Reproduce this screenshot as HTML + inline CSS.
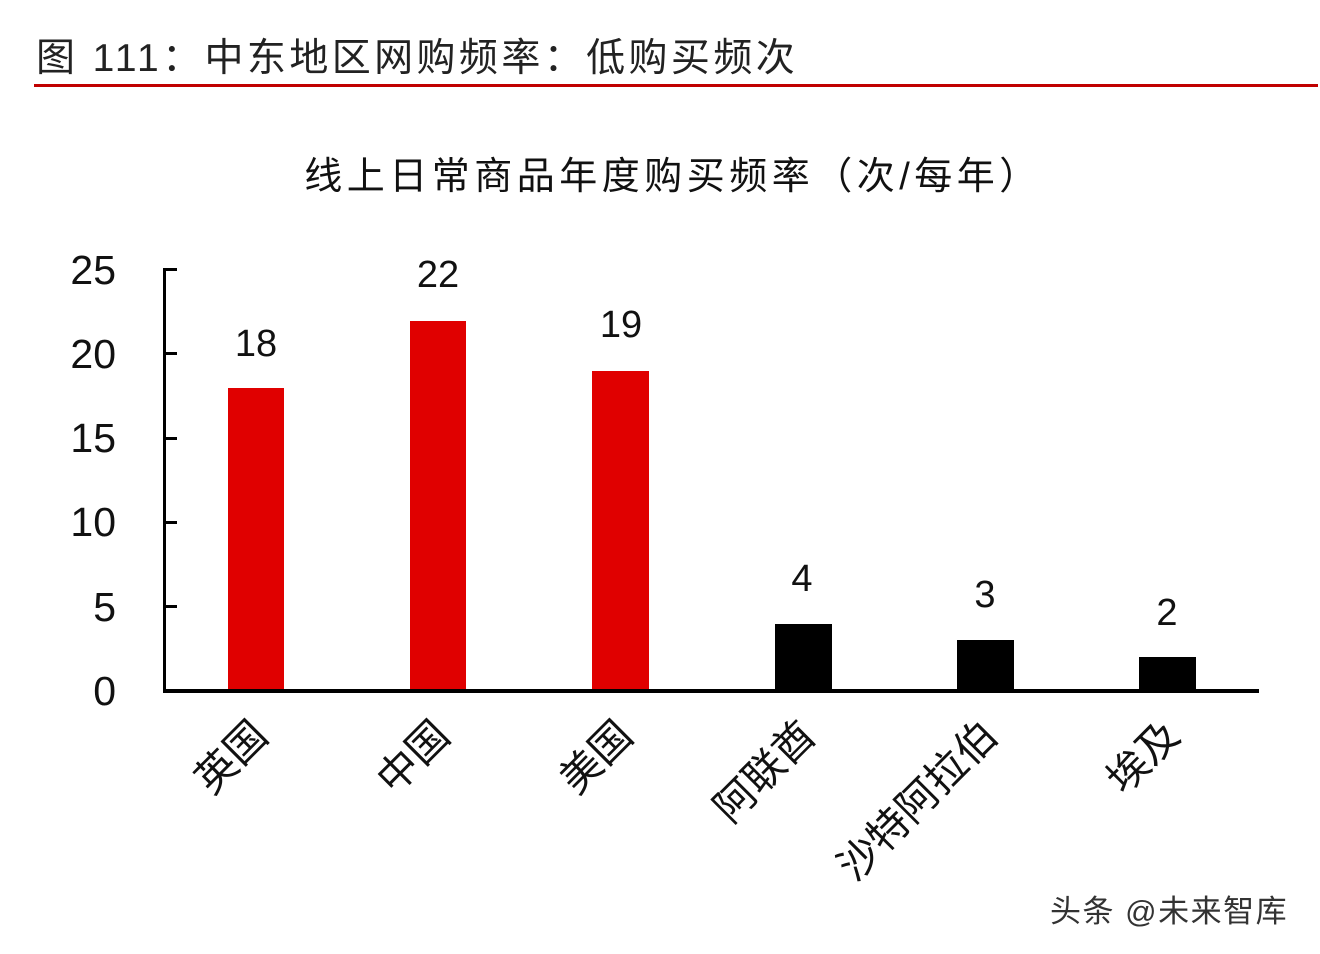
<!DOCTYPE html>
<html><head><meta charset="utf-8"><style>
html,body{margin:0;padding:0;background:#fff;}
svg{display:block;font-family:"Liberation Sans","Noto Sans CJK SC",sans-serif;}
</style></head><body>
<svg width="1320" height="954" viewBox="0 0 1320 954" xmlns="http://www.w3.org/2000/svg">
<rect width="1320" height="954" fill="#fff"/>
<text x="36" y="71" font-size="39" fill="#222" letter-spacing="3.4">图 111：中东地区网购频率：低购买频次</text>
<rect x="34" y="84" width="1284" height="3" fill="#c00000"/>
<text x="673" y="189" font-size="38" fill="#111" text-anchor="middle" letter-spacing="4.5">线上日常商品年度购买频率（次/每年）</text>
<g font-size="41" fill="#111" text-anchor="end">
<text x="116" y="284">25</text>
<text x="116" y="368">20</text>
<text x="116" y="452">15</text>
<text x="116" y="536">10</text>
<text x="116" y="621">5</text>
<text x="116" y="705">0</text>
</g>
<rect x="163" y="268" width="3" height="425" fill="#000"/>
<g fill="#000">
<rect x="163" y="268" width="14" height="3"/>
<rect x="163" y="352" width="14" height="3"/>
<rect x="163" y="437" width="14" height="3"/>
<rect x="163" y="521" width="14" height="3"/>
<rect x="163" y="605" width="14" height="3"/>
</g>
<rect x="228" y="388" width="56" height="303" fill="#e00000"/>
<rect x="410" y="321" width="56" height="370" fill="#e00000"/>
<rect x="592" y="371" width="57" height="320" fill="#e00000"/>
<rect x="775" y="624" width="57" height="67" fill="#000"/>
<rect x="957" y="640" width="57" height="51" fill="#000"/>
<rect x="1139" y="657" width="57" height="34" fill="#000"/>
<rect x="163" y="689" width="1096" height="4" fill="#000"/>
<g font-size="38" fill="#111" text-anchor="middle">
<text x="256" y="356">18</text>
<text x="438" y="287">22</text>
<text x="621" y="337">19</text>
<text x="802" y="591">4</text>
<text x="985" y="607">3</text>
<text x="1167" y="625">2</text>
</g>
<g font-size="41" fill="#111" text-anchor="end">
<text transform="translate(270,738) rotate(-45)">英国</text>
<text transform="translate(452,738) rotate(-45)">中国</text>
<text transform="translate(635,738) rotate(-45)">美国</text>
<text transform="translate(818,738) rotate(-45)">阿联酋</text>
<text transform="translate(1000,738) rotate(-45)">沙特阿拉伯</text>
<text transform="translate(1182,738) rotate(-45)">埃及</text>
</g>
<text x="1050" y="922" font-size="31" fill="#333" letter-spacing="1.5">头条 @未来智库</text>
</svg>
</body></html>
